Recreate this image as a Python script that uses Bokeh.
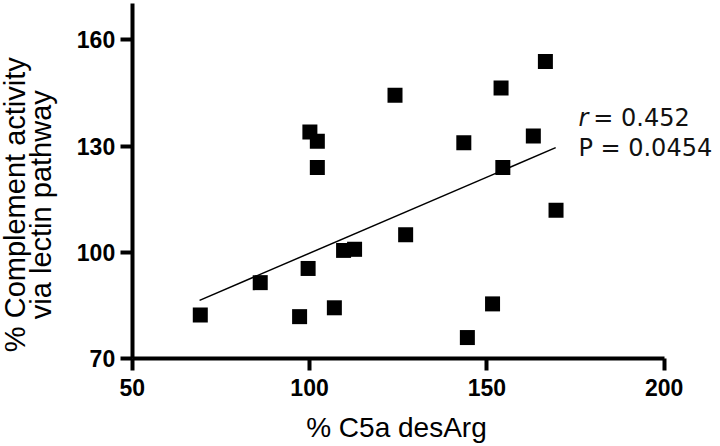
from bokeh.plotting import figure
from bokeh.models import Range1d, Label, FixedTicker
from bokeh.embed import file_html
from bokeh.resources import INLINE

# Data
c5a_desarg = [69.2, 86.1, 97.2, 99.6, 100.1, 102.2, 102.2, 107.0, 109.6, 112.7,
              124.1, 127.1, 143.5, 144.5, 151.6, 154.0, 154.5, 163.1, 166.5, 169.5]
complement = [82.4, 91.5, 81.9, 95.5, 134.0, 131.4, 124.0, 84.4, 100.6, 100.9,
              144.4, 105.0, 131.0, 76.0, 85.5, 146.4, 124.0, 132.9, 153.9, 111.9]
fit_x = [69.0, 169.4]
fit_y = [86.5, 129.6]
x_ticks = [50, 100, 150, 200]
y_ticks = [70, 100, 130, 160]
x_axis_bounds = (50, 200)
y_axis_bounds = (70, 170.2)
r_text = "r"
r_value_text = "= 0.452"
p_text = "P = 0.0454"
x_title = "% C5a desArg"
y_title_1 = "% Complement activity"
y_title_2 = "via lectin pathway"

p = figure(width=720, height=446, output_backend="svg", toolbar_location=None,
           x_range=Range1d(12.87, 215.87), y_range=Range1d(45.25, 171.13),
           min_border_left=0, min_border_right=0, min_border_top=0,
           min_border_bottom=0)
p.outline_line_color = None
p.grid.visible = False
p.background_fill_color = "white"
p.border_fill_color = "white"

p.line(fit_x, fit_y, line_color="black", line_width=1.5)
p.scatter(c5a_desarg, complement, marker="square", size=15,
          fill_color="black", line_color=None)

FONT = "Liberation Sans"
for ax, ticks in ((p.xaxis[0], x_ticks), (p.yaxis[0], y_ticks)):
    ax.ticker = FixedTicker(ticks=ticks)
    ax.axis_line_width = 4
    ax.axis_line_color = "black"
    ax.major_tick_line_width = 4
    ax.major_tick_line_color = "black"
    ax.major_tick_out = 12
    ax.major_tick_in = 0
    ax.minor_tick_line_color = None
    ax.major_label_text_font = FONT
    ax.major_label_text_font_style = "bold"
    ax.major_label_text_font_size = "23px"
    ax.major_label_text_color = "black"
    ax.major_label_standoff = 5
    ax.axis_label = None

p.xaxis[0].fixed_location = 70
p.xaxis[0].bounds = x_axis_bounds
p.xaxis[0].major_label_standoff = 8
p.yaxis[0].fixed_location = 50
p.yaxis[0].bounds = y_axis_bounds

p.add_layout(Label(x=124.5, y=50.7, text=x_title, text_font=FONT,
                   text_font_size="28px", text_align="center",
                   text_baseline="alphabetic", text_color="black"))
p.add_layout(Label(x=16.9, y=113.5, text=y_title_1, angle=1.5707963,
                   text_font=FONT, text_font_size="29px", text_align="center",
                   text_baseline="alphabetic", text_color="black"))
p.add_layout(Label(x=24.4, y=113.5, text=y_title_2, angle=1.5707963,
                   text_font=FONT, text_font_size="29px", text_align="center",
                   text_baseline="alphabetic", text_color="black"))

p.add_layout(Label(x=175.8, y=138.1, text=r_text, text_font="DejaVu Sans",
                   text_font_style="italic", text_font_size="24px",
                   text_baseline="alphabetic", text_color="#111111"))
p.add_layout(Label(x=180.0, y=138.1, text=r_value_text, text_font="DejaVu Sans",
                   text_font_size="24px", text_baseline="alphabetic",
                   text_color="#111111"))
p.add_layout(Label(x=175.8, y=129.4, text=p_text, text_font="DejaVu Sans",
                   text_font_size="24px", text_baseline="alphabetic",
                   text_color="#111111"))

open("out.html", "w").write(file_html(p, INLINE))
